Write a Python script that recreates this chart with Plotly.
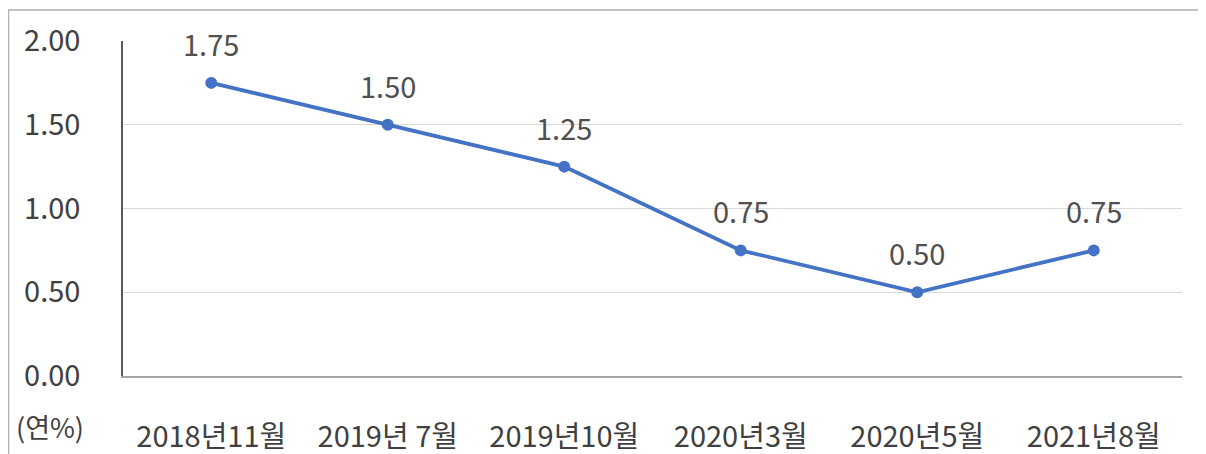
import plotly.graph_objects as go

categories = ["2018년11월", "2019년 7월", "2019년10월", "2020년3월", "2020년5월", "2021년8월"]
rates = [1.75, 1.50, 1.25, 0.75, 0.50, 0.75]
rate_labels = ["1.75", "1.50", "1.25", "0.75", "0.50", "0.75"]
y_ticks = [0.0, 0.5, 1.0, 1.5, 2.0]
y_tick_labels = ["0.00", "0.50", "1.00", "1.50", "2.00"]

FONT = "Noto Sans CJK KR"
TXT = "#404040"
BLUE = "#4472C4"

# page body has an 8px margin; figure coords = page coords - 8
W, H = 1198, 446
l, r, t, b = 115, 24, 33, 78
pw, ph = W - l - r, H - t - b
def px(x): return (x - l) / pw
def py(y): return 1 - (y - t) / ph

fig = go.Figure()
fig.add_trace(go.Scatter(
    x=categories, y=rates, mode="lines+markers",
    line=dict(color=BLUE, width=3.8),
    marker=dict(color=BLUE, size=12),
    hoverinfo="skip", cliponaxis=False,
))
for c, v, tx in zip(categories, rates, rate_labels):
    fig.add_annotation(x=c, y=v, text=tx, showarrow=False, yshift=40,
                       font=dict(family=FONT, size=29, color="#505050"))

fig.add_annotation(xref="paper", yref="paper", x=px(42), y=py(419),
                   text="(연%)", showarrow=False, xanchor="center", yanchor="middle",
                   font=dict(family=FONT, size=27, color=TXT))

fig.add_shape(type="rect", xref="paper", yref="paper",
              x0=px(0.5), x1=px(1197), y0=py(470), y1=py(2),
              line=dict(color="#b0b0b0", width=1.5), fillcolor="rgba(0,0,0,0)", layer="below")

fig.update_layout(
    width=W, height=H,
    margin=dict(l=l, r=r, t=t, b=b, autoexpand=False),
    paper_bgcolor="white", plot_bgcolor="white",
    showlegend=False,
    font=dict(family=FONT, size=29, color=TXT),
    xaxis=dict(
        type="category", range=[-0.5, 5.5],
        showgrid=False, showline=True, linecolor="#a6a6a6", linewidth=2,
        ticks="", ticklabelstandoff=34,
        tickfont=dict(family=FONT, size=29, color=TXT),
        zeroline=False, fixedrange=True,
    ),
    yaxis=dict(
        range=[0, 2.0], tickvals=y_ticks, ticktext=y_tick_labels,
        showgrid=True, gridcolor="#d9d9d9", gridwidth=1,
        showline=True, linecolor="#595959", linewidth=1.5,
        ticks="", ticklabelstandoff=35,
        tickfont=dict(family=FONT, size=29, color=TXT),
        zeroline=False, fixedrange=True,
    ),
)

fig.write_html("out.html")
